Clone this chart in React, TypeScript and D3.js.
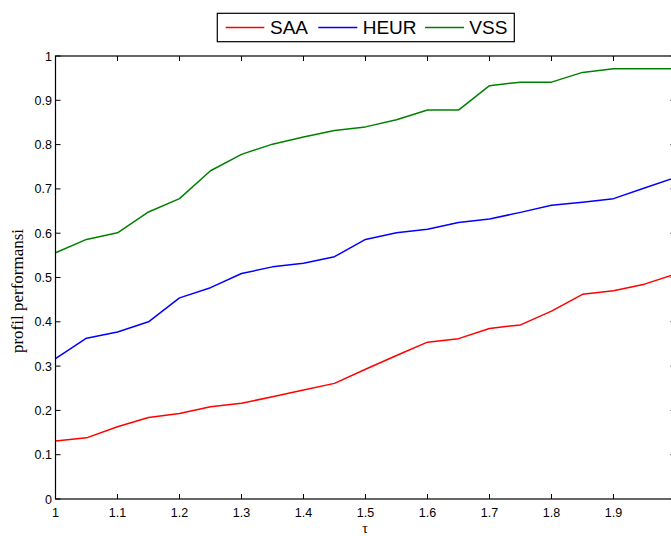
import React from "react";
import * as d3 from "d3";

const tau = [1, 1.05, 1.1, 1.15, 1.2, 1.25, 1.3, 1.35, 1.4, 1.45, 1.5, 1.55, 1.6, 1.65, 1.7, 1.75, 1.8, 1.85, 1.9, 1.95, 2];
const saa = [0.131, 0.138, 0.163, 0.184, 0.193, 0.208, 0.216, 0.231, 0.246, 0.261, 0.293, 0.324, 0.354, 0.362, 0.385, 0.393, 0.424, 0.462, 0.47, 0.485, 0.508];
const heur = [0.317, 0.363, 0.377, 0.4, 0.454, 0.477, 0.509, 0.524, 0.532, 0.547, 0.586, 0.601, 0.609, 0.624, 0.632, 0.647, 0.663, 0.67, 0.678, 0.702, 0.726];
const vss = [0.556, 0.586, 0.601, 0.648, 0.678, 0.741, 0.778, 0.801, 0.817, 0.832, 0.84, 0.856, 0.878, 0.878, 0.933, 0.941, 0.941, 0.963, 0.971, 0.971, 0.971];
const seriesNames = ["SAA", "HEUR", "VSS"];
const seriesColors = ["#ff0000", "#0000ff", "#008000"];
const xTicks = [1, 1.1, 1.2, 1.3, 1.4, 1.5, 1.6, 1.7, 1.8, 1.9, 2];
const yTicks = [0, 0.1, 0.2, 0.3, 0.4, 0.5, 0.6, 0.7, 0.8, 0.9, 1];

export default function App() {
  const W = 671, H = 536;
  const left = 55.5, right = 675.5, top = 56, bottom = 499;
  const x = d3.scaleLinear().domain([1, 2]).range([left, right]);
  const y = d3.scaleLinear().domain([0, 1]).range([bottom, top]);
  const allSeries = [saa, heur, vss];
  const line = d3.line<number>().x((_, i) => x(tau[i])).y((d) => y(d));
  const tk = 5;
  const font = "Liberation Sans, Arial, sans-serif";
  const serif = "Liberation Serif, Times New Roman, serif";

  const legendItems = [
    { x1: 225.7, x2: 264.3, tx: 270 },
    { x1: 318.3, x2: 357.3, tx: 362.7 },
    { x1: 425, x2: 464, tx: 469.3 },
  ];

  return (
    <svg width={W} height={H} style={{ position: "absolute", left: 0, top: 0, background: "#fff" }}>
      <rect x={0} y={0} width={W} height={H} fill="#fff" />
      <defs>
        <clipPath id="plot">
          <rect x={left} y={top} width={right - left} height={bottom - top} />
        </clipPath>
      </defs>
      <g clipPath="url(#plot)">
        {allSeries.map((s, k) => (
          <path key={k} d={line(s) || ""} fill="none" stroke={seriesColors[k]} strokeWidth={1.5} strokeLinejoin="round" />
        ))}
      </g>
      <rect x={left} y={top} width={right - left} height={bottom - top} fill="none" stroke="#000" strokeWidth={1.2} />
      {xTicks.map((t) => (
        <g key={"x" + t}>
          <line x1={x(t)} x2={x(t)} y1={bottom} y2={bottom - tk} stroke="#000" strokeWidth={1} />
          <line x1={x(t)} x2={x(t)} y1={top} y2={top + tk} stroke="#000" strokeWidth={1} />
          {x(t) < W ? (
            <text x={x(t)} y={517} textAnchor="middle" fontFamily={font} fontSize={12.5} fill="#000">
              {d3.format("")(t)}
            </text>
          ) : null}
        </g>
      ))}
      {yTicks.map((t) => (
        <g key={"y" + t}>
          <line x1={left} x2={left + tk} y1={y(t)} y2={y(t)} stroke="#000" strokeWidth={1} />
          <line x1={right} x2={right - tk} y1={y(t)} y2={y(t)} stroke="#000" strokeWidth={1} />
          <text x={52} y={y(t) + 4.5} textAnchor="end" fontFamily={font} fontSize={12.5} fill="#000">
            {d3.format("")(t)}
          </text>
        </g>
      ))}
      <text x={365} y={533} textAnchor="middle" fontFamily={serif} fontSize={14} fill="#000">
        τ
      </text>
      <text
        transform={`translate(23, 291) rotate(-90)`}
        textAnchor="middle"
        fontFamily={serif}
        fontSize={17}
        fill="#000"
      >
        profil performansi
      </text>
      <rect x={217.3} y={13.3} width={297} height={28.4} fill="#fff" stroke="#000" strokeWidth={1.2} />
      {legendItems.map((it, k) => (
        <g key={"l" + k}>
          <line x1={it.x1} x2={it.x2} y1={27.5} y2={27.5} stroke={seriesColors[k]} strokeWidth={1.5} />
          <text x={it.tx} y={34.3} fontFamily={font} fontSize={19} fill="#000">
            {seriesNames[k]}
          </text>
        </g>
      ))}
    </svg>
  );
}
